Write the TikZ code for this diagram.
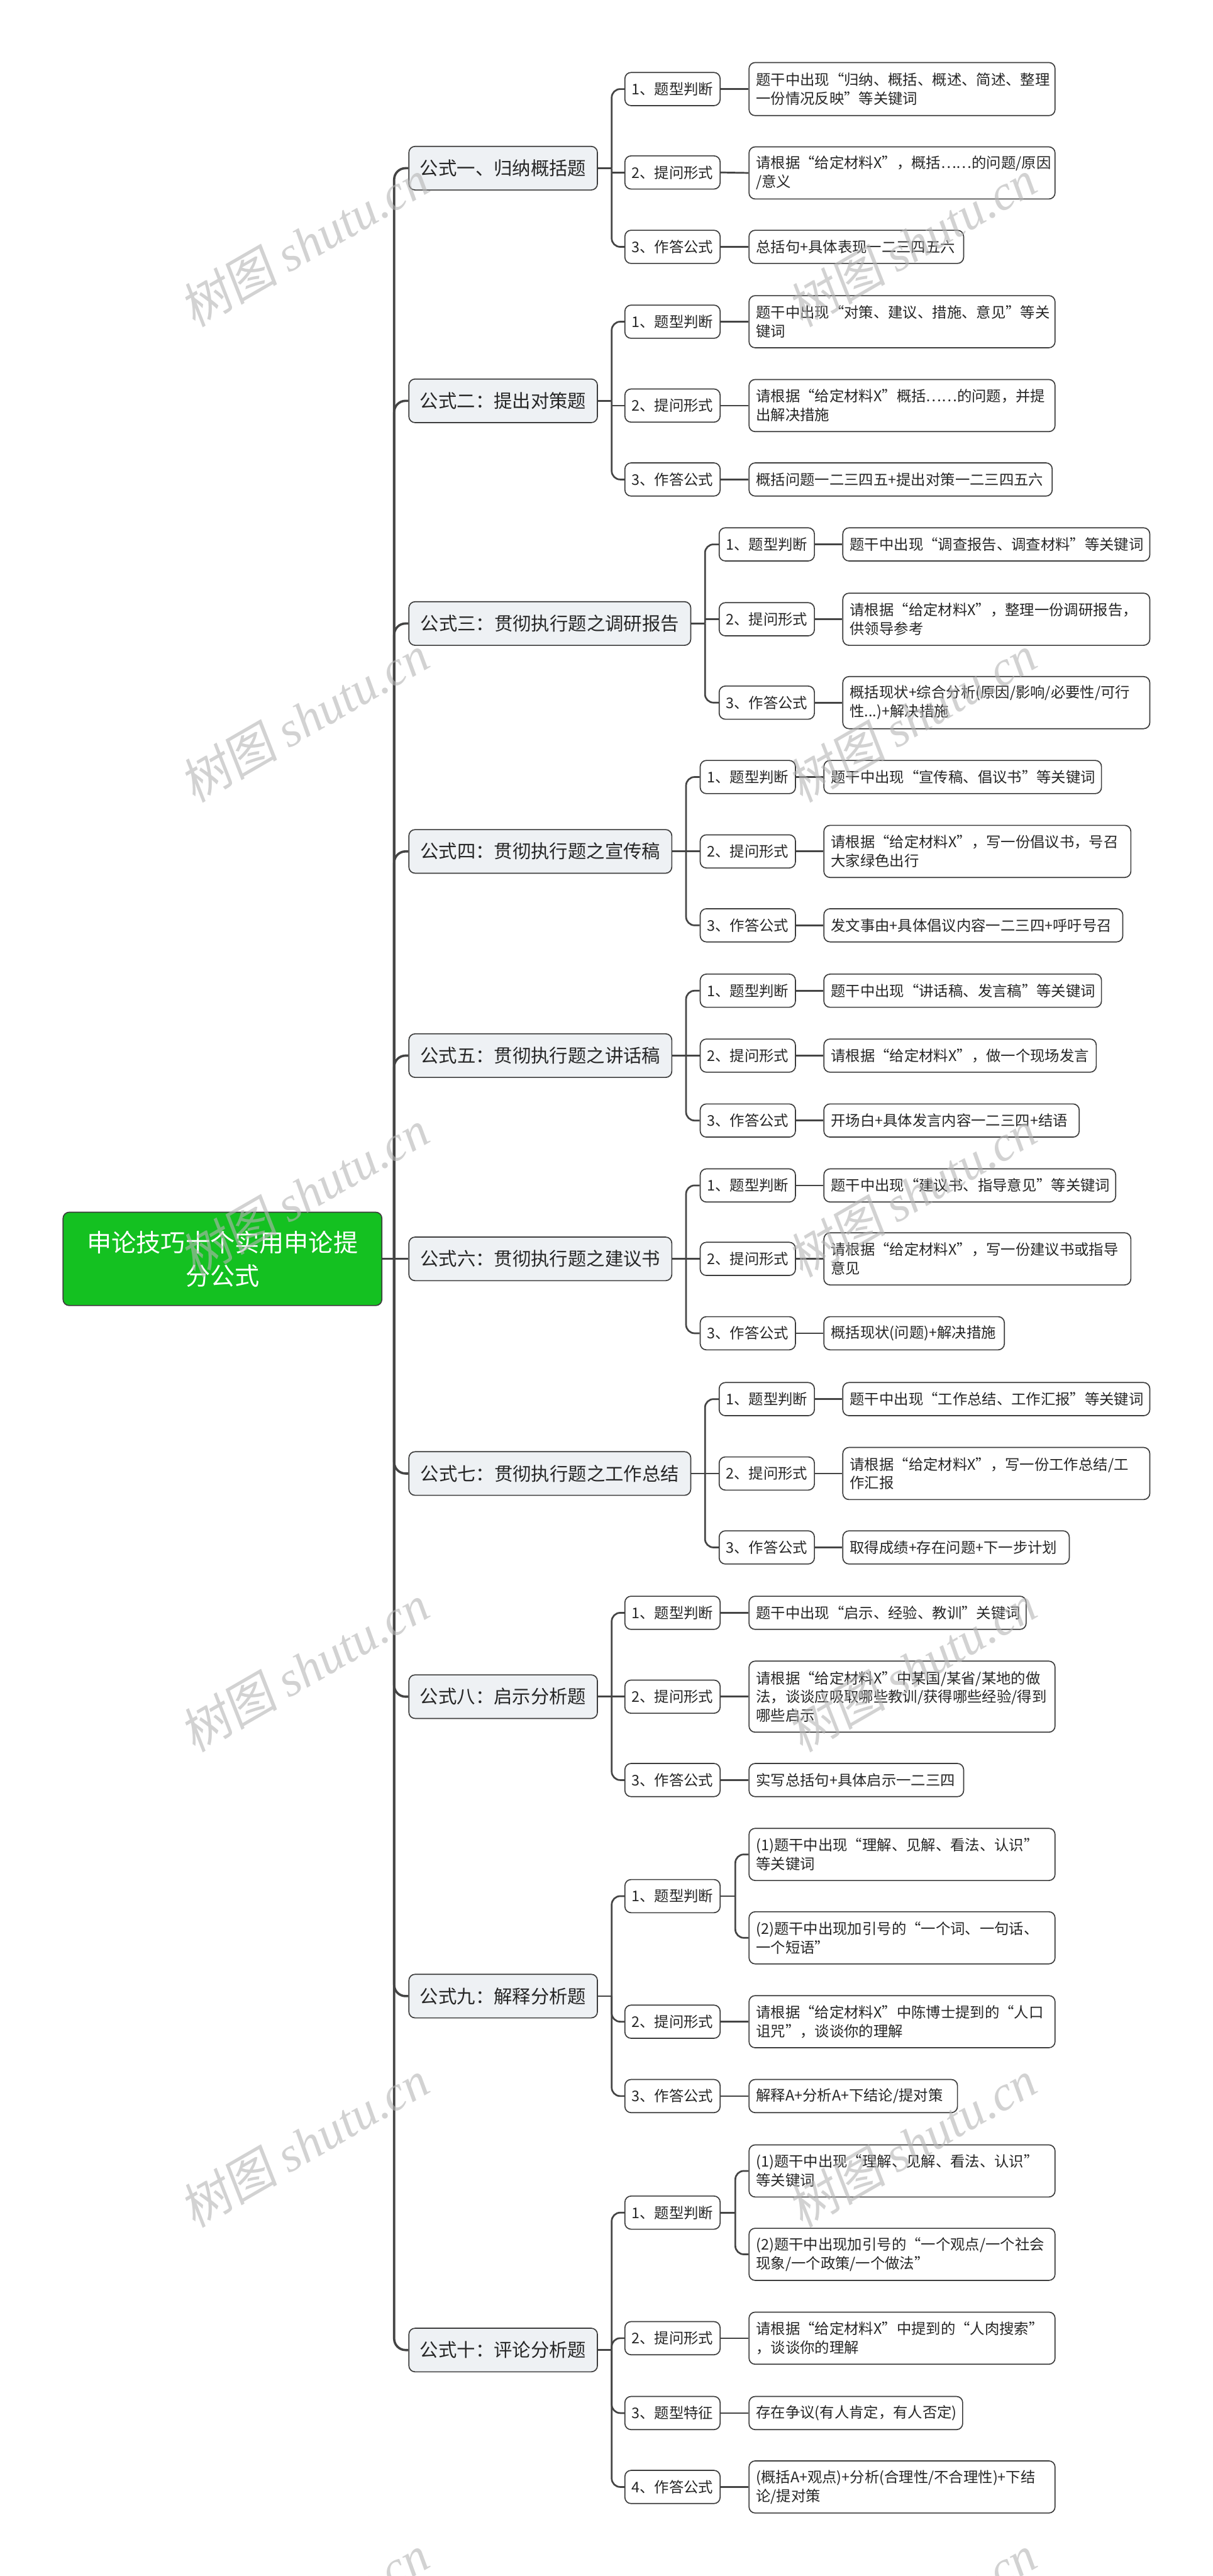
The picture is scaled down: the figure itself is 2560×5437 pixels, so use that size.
\documentclass[tikz,border=0pt]{standalone}
\usepackage{fontspec}
\setmainfont{Noto Sans CJK SC}
\newfontfamily\wmlatin{Liberation Serif}
\newfontfamily\wmcjk[FakeSlant=0.15]{Noto Sans CJK SC}
\usetikzlibrary{calc}
\definecolor{linec}{HTML}{444444}
\definecolor{boxc}{HTML}{3C3C3C}
\definecolor{topicfill}{HTML}{EEF1F4}
\definecolor{rootfill}{HTML}{14C121}
\definecolor{wmc}{HTML}{B4B4B4}
\pgfdeclarelayer{back}
\pgfdeclarelayer{bg}
\pgfsetlayers{back,bg,main}
\tikzset{
  box/.style={draw=boxc, line width=1.1pt, rounded corners=6.5pt, anchor=west, inner ysep=0pt, text=black!85},
  rootbox/.style={box, fill=rootfill, text=white, align=center, inner xsep=10pt, font=\fontsize{26}{35}\selectfont},
  topicbox/.style={box, fill=topicfill, align=center, inner xsep=5pt, minimum height=46pt, font=\fontsize{19.5}{24}\selectfont},
  subbox/.style={box, fill=white, align=center, inner xsep=5pt, minimum height=35pt, text width=90.5pt, font=\fontsize{15.5}{19.7}\selectfont},
  leafbox/.style={box, fill=white, align=left, inner xsep=7.5pt, font=\fontsize{15.5}{19.7}\selectfont},
  trunk/.style={draw=linec, line width=2.4pt},
  conn/.style={draw=linec, line width=1.8pt},
  elbow/.style={conn, rounded corners=9pt},
  wm/.style={text=wmc, opacity=0.6, rotate=30, inner sep=0pt, font=\fontsize{52}{60}\selectfont}
}
\newcommand\topicnode[4]{\pgfmathsetmacro\mytw{(#2-862)*0.5-10}\node[topicbox,text width=\mytw pt] (#1) at (862,#3) {#4};}
\newcommand\subnode[4]{\node[subbox] (#1) at (#2,#3) {#4};}
\newcommand\leafnode[6]{\pgfmathsetmacro\mytw{(#3-#2)*0.5-15}\node[leafbox,text width=\mytw pt,minimum height=#5pt] (#1) at (#2,#4) {#6};}
\begin{document}
\begin{tikzpicture}[x=0.5pt,y=-0.5pt]
\begin{pgfonlayer}{back}
\fill[white] (0,0) rectangle (2560,5437);
\end{pgfonlayer}
\useasboundingbox (0,0) rectangle (2560,5437);

% root
\node[rootbox, text width=316.5pt, minimum height=98.5pt] (root) at (132,2657) {申论技巧十个实用申论提\\分公式};

% ---------- group 1
\topicnode{f1}{1260}{355}{公式一、归纳概括题}
\subnode{g1a}{1318}{188}{1、题型判断}
\subnode{g1b}{1318}{364}{2、提问形式}
\subnode{g1c}{1318}{521}{3、作答公式}
\leafnode{l1a}{1580}{2226}{188}{56}{题干中出现“归纳、概括、概述、简述、整理\\一份情况反映”等关键词}
\leafnode{l1b}{1580}{2226}{365}{55}{请根据“给定材料X”，概括……的问题/原因\\/意义}
\leafnode{l1c}{1580}{2033}{521}{35}{总括句+具体表现一二三四五六}

% ---------- group 2
\topicnode{f2}{1260}{846}{公式二：提出对策题}
\subnode{g2a}{1318}{679}{1、题型判断}
\subnode{g2b}{1318}{856}{2、提问形式}
\subnode{g2c}{1318}{1012}{3、作答公式}
\leafnode{l2a}{1580}{2226}{679}{55}{题干中出现“对策、建议、措施、意见”等关\\键词}
\leafnode{l2b}{1580}{2226}{856}{55}{请根据“给定材料X”概括……的问题，并提\\出解决措施}
\leafnode{l2c}{1580}{2220}{1012}{35}{概括问题一二三四五+提出对策一二三四五六}

% ---------- group 3
\topicnode{f3}{1457}{1316}{公式三：贯彻执行题之调研报告}
\subnode{g3a}{1517}{1149}{1、题型判断}
\subnode{g3b}{1517}{1307}{2、提问形式}
\subnode{g3c}{1517}{1483}{3、作答公式}
\leafnode{l3a}{1778}{2426}{1149}{35}{题干中出现“调查报告、调查材料”等关键词}
\leafnode{l3b}{1778}{2426}{1307}{55}{请根据“给定材料X”，整理一份调研报告，\\供领导参考}
\leafnode{l3c}{1778}{2426}{1483}{55}{概括现状+综合分析(原因/影响/必要性/可行\\性...)+解决措施}

% ---------- group 4
\topicnode{f4}{1417}{1797}{公式四：贯彻执行题之宣传稿}
\subnode{g4a}{1477}{1640}{1、题型判断}
\subnode{g4b}{1477}{1797}{2、提问形式}
\subnode{g4c}{1477}{1953}{3、作答公式}
\leafnode{l4a}{1738}{2324}{1640}{35}{题干中出现“宣传稿、倡议书”等关键词}
\leafnode{l4b}{1738}{2386}{1797}{55}{请根据“给定材料X”，写一份倡议书，号召\\大家绿色出行}
\leafnode{l4c}{1738}{2369}{1953}{35}{发文事由+具体倡议内容一二三四+呼吁号召}

% ---------- group 5
\topicnode{f5}{1417}{2228}{公式五：贯彻执行题之讲话稿}
\subnode{g5a}{1477}{2091}{1、题型判断}
\subnode{g5b}{1477}{2228}{2、提问形式}
\subnode{g5c}{1477}{2365}{3、作答公式}
\leafnode{l5a}{1738}{2324}{2091}{35}{题干中出现“讲话稿、发言稿”等关键词}
\leafnode{l5b}{1738}{2313}{2228}{35}{请根据“给定材料X”，做一个现场发言}
\leafnode{l5c}{1738}{2277}{2365}{35}{开场白+具体发言内容一二三四+结语}

% ---------- group 6
\topicnode{f6}{1417}{2657}{公式六：贯彻执行题之建议书}
\subnode{g6a}{1477}{2502}{1、题型判断}
\subnode{g6b}{1477}{2657}{2、提问形式}
\subnode{g6c}{1477}{2814}{3、作答公式}
\leafnode{l6a}{1738}{2354}{2502}{35}{题干中出现“建议书、指导意见”等关键词}
\leafnode{l6b}{1738}{2386}{2657}{55}{请根据“给定材料X”，写一份建议书或指导\\意见}
\leafnode{l6c}{1738}{2119}{2814}{35}{概括现状(问题)+解决措施}

% ---------- group 7
\topicnode{f7}{1457}{3110}{公式七：贯彻执行题之工作总结}
\subnode{g7a}{1517}{2953}{1、题型判断}
\subnode{g7b}{1517}{3110}{2、提问形式}
\subnode{g7c}{1517}{3266}{3、作答公式}
\leafnode{l7a}{1778}{2426}{2953}{35}{题干中出现“工作总结、工作汇报”等关键词}
\leafnode{l7b}{1778}{2426}{3110}{55}{请根据“给定材料X”，写一份工作总结/工\\作汇报}
\leafnode{l7c}{1778}{2256}{3266}{35}{取得成绩+存在问题+下一步计划}

% ---------- group 8
\topicnode{f8}{1260}{3581}{公式八：启示分析题}
\subnode{g8a}{1318}{3404}{1、题型判断}
\subnode{g8b}{1318}{3581}{2、提问形式}
\subnode{g8c}{1318}{3757}{3、作答公式}
\leafnode{l8a}{1580}{2165}{3404}{35}{题干中出现“启示、经验、教训”关键词}
\leafnode{l8b}{1580}{2226}{3581}{75}{请根据“给定材料X”中某国/某省/某地的做\\法，谈谈应吸取哪些教训/获得哪些经验/得到\\哪些启示}
\leafnode{l8c}{1580}{2033}{3757}{35}{实写总括句+具体启示一二三四}

% ---------- group 9
\topicnode{f9}{1260}{4213}{公式九：解释分析题}
\subnode{g9a}{1318}{4002}{1、题型判断}
\subnode{g9b}{1318}{4267}{2、提问形式}
\subnode{g9c}{1318}{4424}{3、作答公式}
\leafnode{l9aa}{1580}{2226}{3914}{55}{(1)题干中出现“理解、见解、看法、认识”\\等关键词}
\leafnode{l9ab}{1580}{2226}{4090}{55}{(2)题干中出现加引号的“一个词、一句话、\\一个短语”}
\leafnode{l9b}{1580}{2226}{4267}{55}{请根据“给定材料X”中陈博士提到的“人口\\诅咒”，谈谈你的理解}
\leafnode{l9c}{1580}{2020}{4424}{35}{解释A+分析A+下结论/提对策}

% ---------- group 10
\topicnode{f10}{1260}{4960}{公式十：评论分析题}
\subnode{g10a}{1318}{4670}{1、题型判断}
\subnode{g10b}{1318}{4935}{2、提问形式}
\subnode{g10c}{1318}{5093}{3、题型特征}
\subnode{g10d}{1318}{5249}{4、作答公式}
\leafnode{l10aa}{1580}{2226}{4582}{55}{(1)题干中出现“理解、见解、看法、认识”\\等关键词}
\leafnode{l10ab}{1580}{2226}{4758}{55}{(2)题干中出现加引号的“一个观点/一个社会\\现象/一个政策/一个做法”}
\leafnode{l10b}{1580}{2226}{4935}{55}{请根据“给定材料X”中提到的“人肉搜索”\\，谈谈你的理解}
\leafnode{l10c}{1580}{2031}{5093}{35}{存在争议(有人肯定，有人否定)}
\leafnode{l10d}{1580}{2226}{5249}{55}{(概括A+观点)+分析(合理性/不合理性)+下结\\论/提对策}

% ---------- connectors
\begin{pgfonlayer}{bg}
\coordinate (rs) at (832,2657);
\draw[trunk] (root.east) -- (f6.west);
\foreach \k in {1,2,3,4,5,7,8,9,10}{
  \draw[trunk,rounded corners=12pt] (rs) |- (f\k.west);
}
% spines for level 2
\foreach \k in {1,...,10}{
  \coordinate (s\k) at ($(f\k.east)+(29,0)$);
  \draw[conn] (f\k.east) -- (s\k);
}
% groups with three children (top / middle / bottom)
\foreach \k in {1,...,8}{
  \draw[elbow] (s\k) |- (g\k a.west);
  \draw[conn] (s\k |- g\k b.west) -- (g\k b.west);
  \draw[elbow] (s\k) |- (g\k c.west);
  \draw[conn] (g\k a.east) -- (l\k a.west);
  \draw[conn] (g\k b.east) -- (l\k b.west);
  \draw[conn] (g\k c.east) -- (l\k c.west);
}
% group 9
\draw[elbow] (s9) |- (g9a.west);
\draw[elbow] (s9) |- (g9b.west);
\draw[elbow] (s9) |- (g9c.west);
\coordinate (t9) at ($(g9a.east)+(31,0)$);
\draw[conn] (g9a.east) -- (t9);
\draw[elbow] (t9) |- (l9aa.west);
\draw[elbow] (t9) |- (l9ab.west);
\draw[conn] (g9b.east) -- (l9b.west);
\draw[conn] (g9c.east) -- (l9c.west);
% group 10
\draw[elbow] (s10) |- (g10a.west);
\draw[elbow] (s10) |- (g10b.west);
\draw[elbow] (s10) |- (g10c.west);
\draw[elbow] (s10) |- (g10d.west);
\coordinate (t10) at ($(g10a.east)+(31,0)$);
\draw[conn] (g10a.east) -- (t10);
\draw[elbow] (t10) |- (l10aa.west);
\draw[elbow] (t10) |- (l10ab.west);
\draw[conn] (g10b.east) -- (l10b.west);
\draw[conn] (g10c.east) -- (l10c.west);
\draw[conn] (g10d.east) -- (l10d.west);
\end{pgfonlayer}

% ---------- watermarks
\foreach \wy [count=\i] in {513,1516,2519,3521,4524,5526}{
  \node[wm] (wmL\i) at (642,\wy) {{\wmcjk 树图} {\wmlatin\itshape shutu.cn}};
  \node[wm] (wmR\i) at (1925,\wy) {{\wmcjk 树图} {\wmlatin\itshape shutu.cn}};
}
\end{tikzpicture}
\end{document}
